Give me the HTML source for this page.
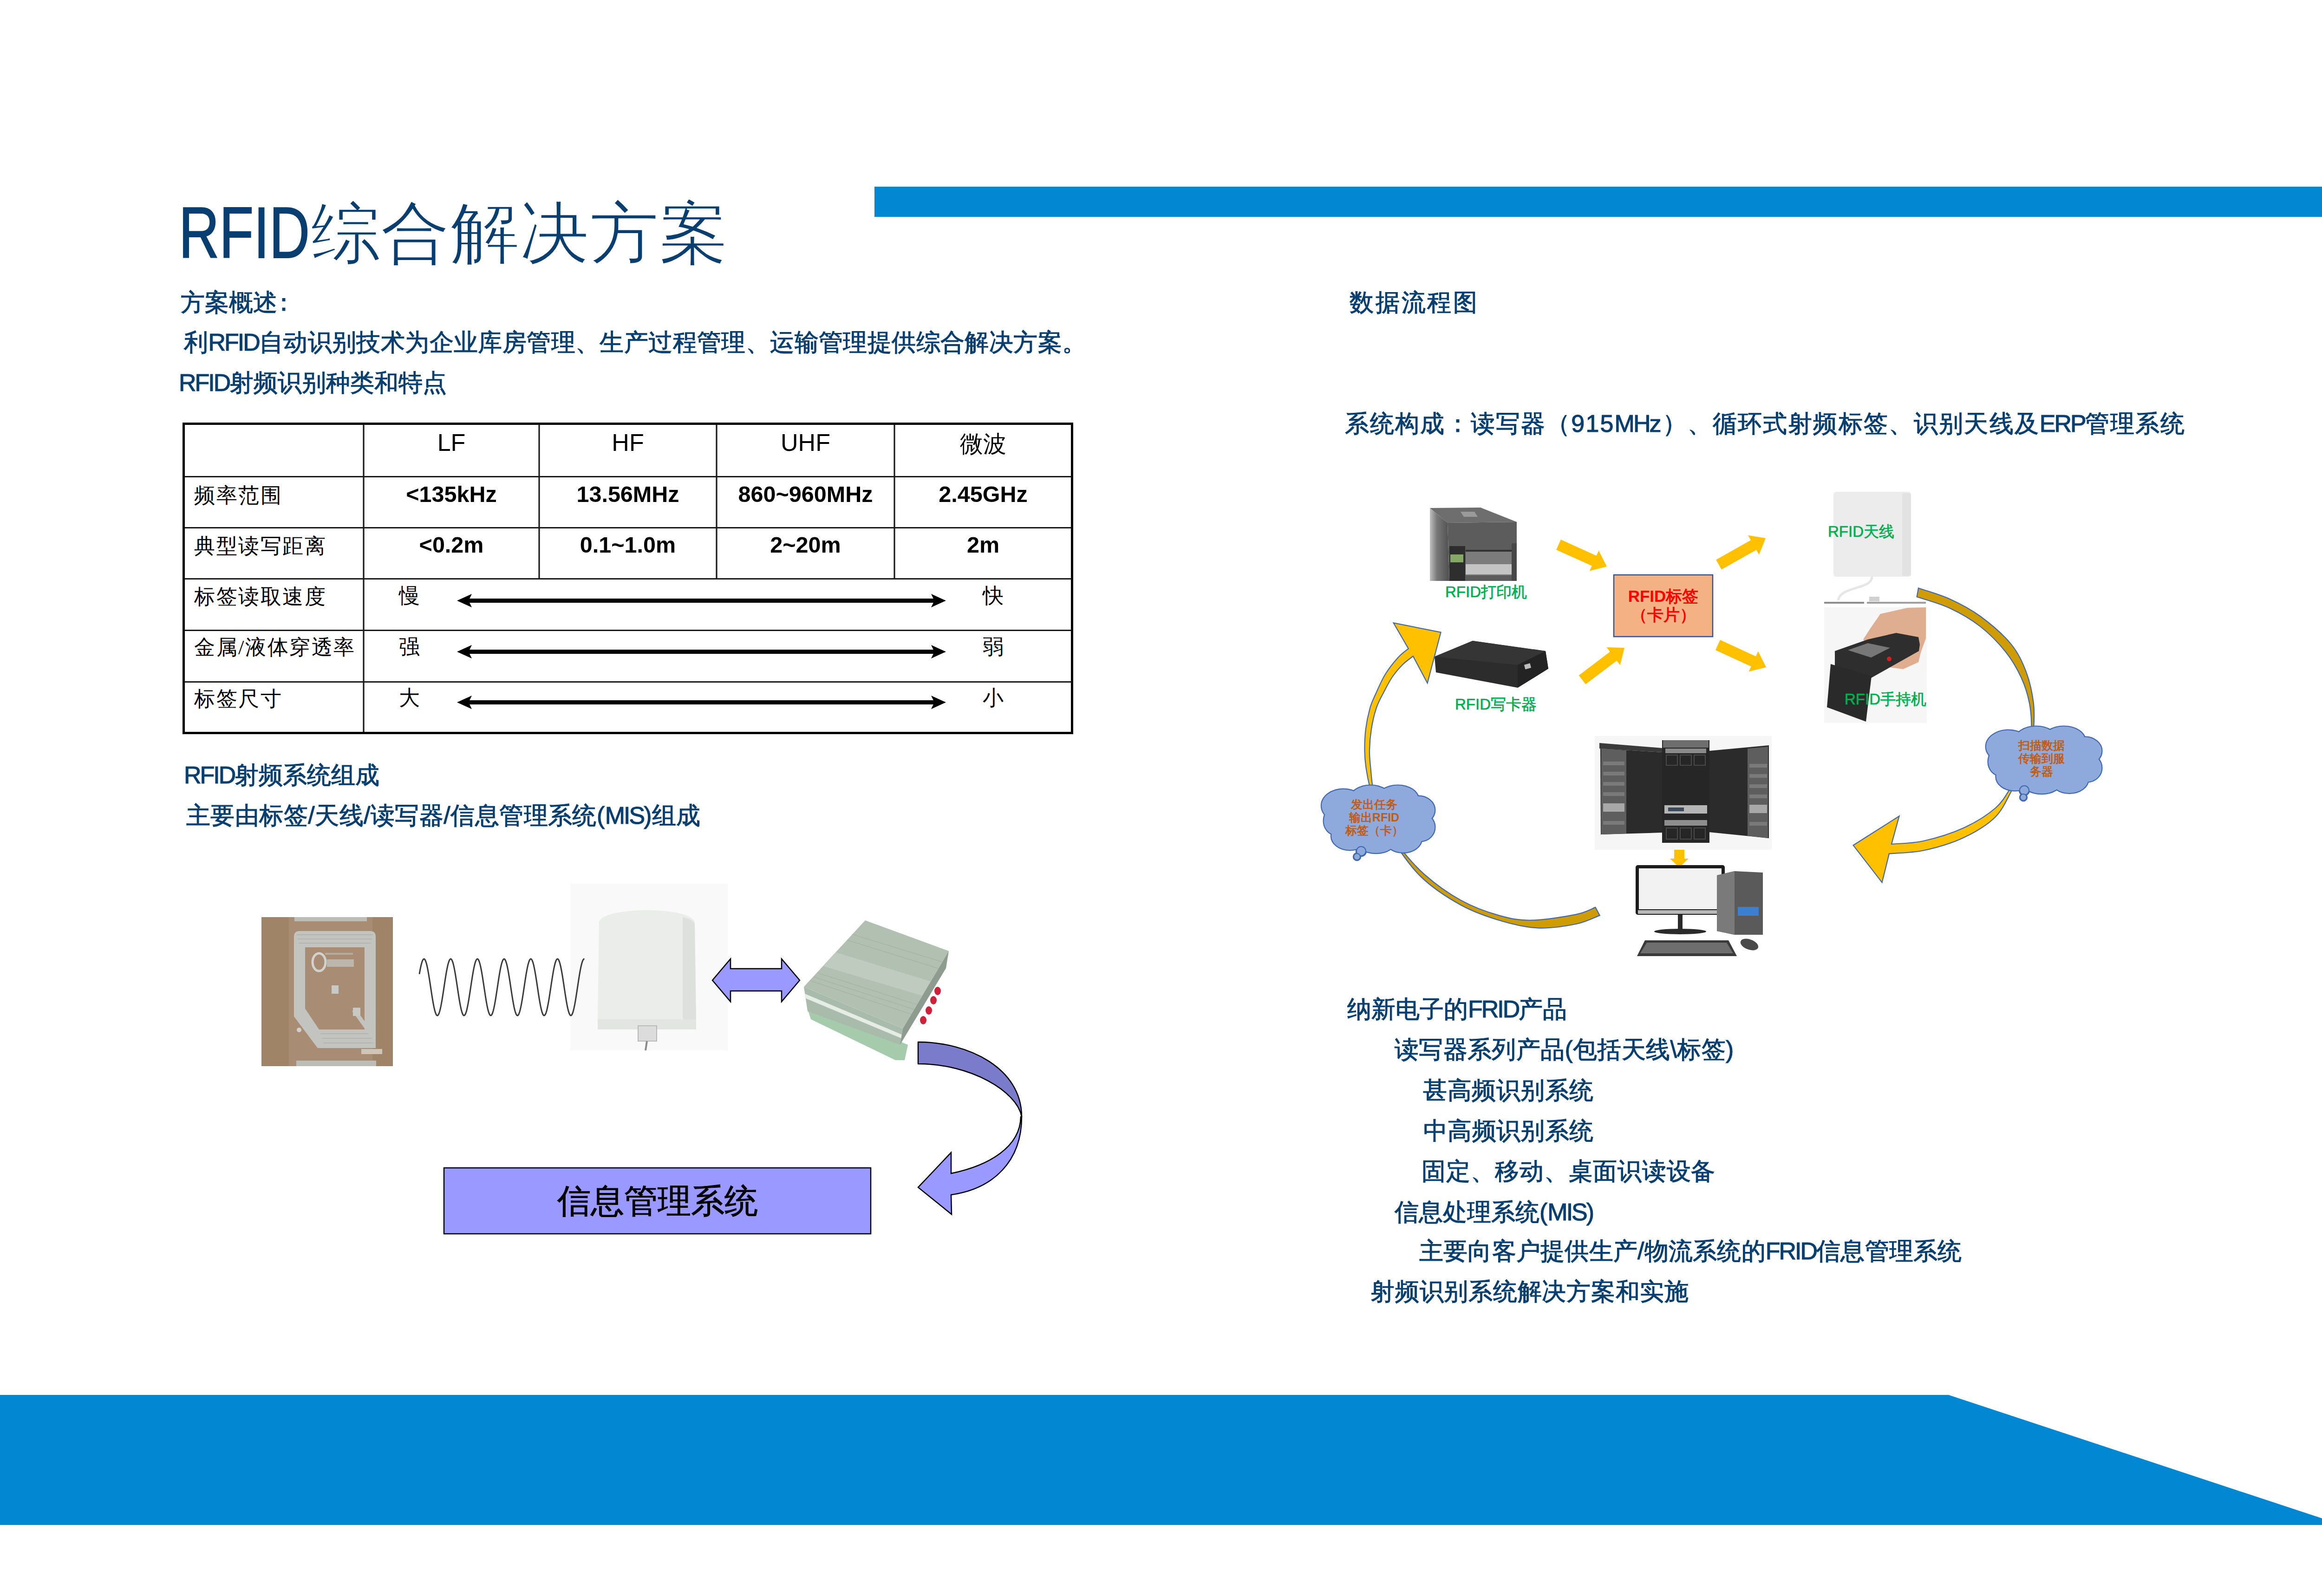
<!DOCTYPE html>
<html><head><meta charset="utf-8">
<style>
html,body{margin:0;padding:0;background:#fff;}
body{width:5031px;height:3437px;position:relative;overflow:hidden;font-family:"Liberation Sans",sans-serif;}
.t{position:absolute;white-space:nowrap;line-height:1;}
.b{color:#083F70;font-size:52px;-webkit-text-stroke:1.1px #083F70;}
.tc{color:#000;text-align:center;}
.ts{font-family:"Liberation Serif",serif;}
.tl{font-size:45px;letter-spacing:2.5px;color:#000;}
.tv{font-size:48.5px;font-weight:bold;}
.g{color:#00B050;font-size:33px;-webkit-text-stroke:0.7px #00B050;}
.cl{color:#C55A11;font-size:25px;font-weight:bold;text-align:center;line-height:28px;}
.lt{letter-spacing:-3px;}
.sv{position:absolute;left:0;top:0;}
</style></head><body>
<svg class="sv" width="5031" height="3437" viewBox="0 0 5031 3437">
<rect x="1883" y="402" width="3145" height="65" fill="#0287D3"/>
<polygon points="0,3004 4196,3004 5031,3280 5031,3284 0,3284" fill="#0287D3"/>
<g id="tagphoto">
    <rect x="563" y="1975" width="283" height="321" fill="#A08468"/>
    <rect x="622" y="1975" width="180" height="321" fill="#A88D74"/>
    <path fill="#C3C3BF" fill-rule="evenodd" d="M645,2005 L797,2005 Q809,2005 809,2017 L809,2257 L684,2257 L633,2189 L633,2017 Q633,2005 645,2005 Z M657,2040 L785,2040 L785,2217 L687,2217 L657,2172 Z"/>
    <g stroke="#B0B0AC" stroke-width="1.5" fill="none">
      <path d="M639,2013 L803,2013 M641,2022 L801,2022 M643,2031 L799,2031"/>
      <path d="M690,2226 L800,2226 M693,2236 L802,2236 M696,2246 L804,2246"/>
    </g>
    <rect x="634" y="1975" width="156" height="9" fill="#BDBDB8"/>
    <rect x="638" y="2284" width="172" height="12" fill="#BDBDB8"/>
    <rect x="714" y="2122" width="15" height="18" fill="#C8C8C4"/>
    <path d="M762,2175 L806,2236" stroke="#C3C3BF" stroke-width="9"/>
    <rect x="760" y="2170" width="16" height="18" fill="#C8C8C4"/>
    <ellipse cx="687" cy="2072" rx="14" ry="19" fill="none" stroke="#D2D2CE" stroke-width="5"/>
    <rect x="704" y="2066" width="58" height="16" fill="#BDB6AC"/>
    <rect x="700" y="2052" width="60" height="4" fill="#B5AC9E"/>
    <circle cx="644" cy="2218" r="5" fill="#D0D0CC"/>
    <rect x="778" y="2259" width="45" height="11" fill="#CFC6BA"/>
  </g>
<g id="antphoto">
    <rect x="1228" y="1903" width="339" height="359" fill="#F9F9F9"/>
    <path d="M1290,1985 Q1300,1962 1393,1960 Q1486,1962 1496,1985 L1499,2200 Q1499,2217 1482,2217 L1304,2217 Q1287,2217 1287,2200 Z" fill="#EAEDEA"/>
    <path d="M1470,1975 Q1493,1980 1496,1990 L1499,2200 Q1499,2217 1482,2217 L1470,2217 Z" fill="#DDE0DD"/>
    <rect x="1287" y="2195" width="212" height="22" fill="#E2E5E2"/>
    <rect x="1374" y="2209" width="40" height="33" fill="#DCDCDC" stroke="#B8B8B8" stroke-width="2"/>
    <line x1="1393" y1="2242" x2="1390" y2="2262" stroke="#8A8A8A" stroke-width="4"/>
  </g>
<polyline points="903.0,2097.8 904.5,2089.3 906.0,2081.9 907.5,2075.6 909.0,2070.7 910.5,2067.2 912.0,2065.3 913.5,2065.1 915.0,2066.5 916.5,2069.5 918.0,2074.0 919.5,2079.9 921.0,2087.0 922.5,2095.2 924.0,2104.2 925.5,2113.8 927.0,2123.7 928.5,2133.6 930.0,2143.4 931.5,2152.7 933.0,2161.3 934.5,2169.0 936.0,2175.4 937.5,2180.6 939.0,2184.3 940.5,2186.5 942.0,2187.0 943.5,2185.9 945.0,2183.1 946.5,2178.9 948.0,2173.2 949.5,2166.3 951.0,2158.3 952.5,2149.4 954.0,2139.9 955.5,2130.0 957.0,2120.0 958.5,2110.2 960.0,2100.8 961.5,2092.1 963.0,2084.2 964.5,2077.5 966.0,2072.1 967.5,2068.2 969.0,2065.8 970.5,2065.0 972.0,2065.8 973.5,2068.3 975.0,2072.3 976.5,2077.7 978.0,2084.5 979.5,2092.3 981.0,2101.1 982.5,2110.5 984.0,2120.3 985.5,2130.3 987.0,2140.2 988.5,2149.7 990.0,2158.5 991.5,2166.5 993.0,2173.4 994.5,2179.0 996.0,2183.3 997.5,2185.9 999.0,2187.0 1000.5,2186.4 1002.0,2184.2 1003.5,2180.5 1005.0,2175.3 1006.5,2168.7 1008.0,2161.0 1009.5,2152.4 1011.0,2143.1 1012.5,2133.3 1014.0,2123.3 1015.5,2113.4 1017.0,2103.9 1018.5,2094.9 1020.0,2086.7 1021.5,2079.6 1023.0,2073.8 1024.5,2069.3 1026.0,2066.4 1027.5,2065.1 1029.0,2065.4 1030.5,2067.3 1032.0,2070.8 1033.5,2075.8 1035.0,2082.1 1036.5,2089.6 1038.0,2098.1 1039.5,2107.3 1041.0,2117.0 1042.5,2127.0 1044.0,2136.9 1045.5,2146.6 1047.0,2155.7 1048.5,2164.0 1050.0,2171.3 1051.5,2177.3 1053.0,2182.0 1054.5,2185.2 1056.0,2186.8 1057.5,2186.8 1059.0,2185.1 1060.5,2181.9 1062.0,2177.1 1063.5,2171.0 1065.0,2163.7 1066.5,2155.4 1068.0,2146.3 1069.5,2136.6 1071.0,2126.7 1072.5,2116.7 1074.0,2107.0 1075.5,2097.8 1077.0,2089.3 1078.5,2081.9 1080.0,2075.6 1081.5,2070.7 1083.0,2067.2 1084.5,2065.3 1086.0,2065.1 1087.5,2066.5 1089.0,2069.5 1090.5,2074.0 1092.0,2079.9 1093.5,2087.0 1095.0,2095.2 1096.5,2104.2 1098.0,2113.8 1099.5,2123.7 1101.0,2133.6 1102.5,2143.4 1104.0,2152.7 1105.5,2161.3 1107.0,2169.0 1108.5,2175.4 1110.0,2180.6 1111.5,2184.3 1113.0,2186.5 1114.5,2187.0 1116.0,2185.9 1117.5,2183.1 1119.0,2178.9 1120.5,2173.2 1122.0,2166.3 1123.5,2158.3 1125.0,2149.4 1126.5,2139.9 1128.0,2130.0 1129.5,2120.0 1131.0,2110.2 1132.5,2100.8 1134.0,2092.1 1135.5,2084.2 1137.0,2077.5 1138.5,2072.1 1140.0,2068.2 1141.5,2065.8 1143.0,2065.0 1144.5,2065.8 1146.0,2068.3 1147.5,2072.3 1149.0,2077.7 1150.5,2084.5 1152.0,2092.3 1153.5,2101.1 1155.0,2110.5 1156.5,2120.3 1158.0,2130.3 1159.5,2140.2 1161.0,2149.7 1162.5,2158.5 1164.0,2166.5 1165.5,2173.4 1167.0,2179.0 1168.5,2183.3 1170.0,2185.9 1171.5,2187.0 1173.0,2186.4 1174.5,2184.2 1176.0,2180.5 1177.5,2175.3 1179.0,2168.7 1180.5,2161.0 1182.0,2152.4 1183.5,2143.1 1185.0,2133.3 1186.5,2123.3 1188.0,2113.4 1189.5,2103.9 1191.0,2094.9 1192.5,2086.7 1194.0,2079.6 1195.5,2073.8 1197.0,2069.3 1198.5,2066.4 1200.0,2065.1 1201.5,2065.4 1203.0,2067.3 1204.5,2070.8 1206.0,2075.8 1207.5,2082.1 1209.0,2089.6 1210.5,2098.1 1212.0,2107.3 1213.5,2117.0 1215.0,2127.0 1216.5,2136.9 1218.0,2146.6 1219.5,2155.7 1221.0,2164.0 1222.5,2171.3 1224.0,2177.3 1225.5,2182.0 1227.0,2185.2 1228.5,2186.8 1230.0,2186.8 1231.5,2185.1 1233.0,2181.9 1234.5,2177.1 1236.0,2171.0 1237.5,2163.7 1239.0,2155.4 1240.5,2146.3 1242.0,2136.6 1243.5,2126.7 1245.0,2116.7 1246.5,2107.0 1248.0,2097.8 1249.5,2089.3 1251.0,2081.9 1252.5,2075.6 1254.0,2070.7 1255.5,2067.2 1257.0,2065.3 1258.5,2065.1" fill="none" stroke="#3a3a3a" stroke-width="3"/>
<polygon points="1534,2111 1573,2065 1573,2086 1683,2086 1683,2065 1722,2111 1683,2157 1683,2134 1573,2134 1573,2157" fill="#9999FF" stroke="#000" stroke-width="2.5"/>
<g id="reader">
    <polygon points="1738,2170 1746,2195 1928,2283 1948,2283 1955,2250 1745,2160" fill="#A6CBAC"/>
    <polygon points="1731,2125 1944,2215 1938,2250 1739,2178" fill="#A9BBAA"/>
    <polygon points="1733,2140 1942,2228 1941,2236 1735,2150" fill="#E4ECE4"/>
    <polygon points="1863,1982 2043,2048 1944,2215 1731,2125" fill="#B2C0B2"/>
    <clipPath id="rtop"><polygon points="1863,1982 2043,2048 1944,2215 1731,2125"/></clipPath>
    <polygon clip-path="url(#rtop)" points="1790,2048 2025,2120 2005,2150 1765,2078" fill="#C0CBC0"/><g stroke="#A3B1A3" stroke-width="1.2" clip-path="url(#rtop)"><line x1="1760" y1="2095" x2="1995" y2="2170"/><line x1="1752" y1="2104" x2="1988" y2="2180"/><line x1="1745" y1="2112" x2="1980" y2="2190"/><line x1="1810" y1="2020" x2="2035" y2="2090"/><line x1="1822" y1="2008" x2="2040" y2="2075"/></g>
    <polygon points="2043,2048 2037,2085 1938,2250 1944,2215" fill="#8E9C8F"/>
    <g fill="#D0203A"><ellipse cx="2019" cy="2134" rx="7" ry="9"/><ellipse cx="2010" cy="2154" rx="7" ry="9"/><ellipse cx="2000" cy="2176" rx="7" ry="9"/><ellipse cx="1988" cy="2197" rx="7" ry="9"/></g>
  </g>
<rect x="956" y="2515" width="919" height="142" fill="#9999FF" stroke="#000" stroke-width="2.5"/>
<path d="M1977,2244 C2085,2244 2200,2300 2200,2405 C2190,2350 2090,2291 1977,2291 Z" fill="#7B7BCC" stroke="#000" stroke-width="2.5" stroke-linejoin="round"/>
<path d="M2200,2405 C2200,2500 2140,2560 2048,2573 L2049,2615 L1977,2557 L2048,2482 L2048,2527 C2130,2510 2197,2470 2198,2405 Z" fill="#9999FF" stroke="#000" stroke-width="2.5"/>
<g fill="none" stroke="#000">
    <rect x="395.5" y="912.5" width="1913" height="666" stroke-width="5"/>
    <g stroke-width="3.2" stroke="#1a1a1a">
      <line x1="398" y1="1026.5" x2="2306" y2="1026.5"/>
      <line x1="398" y1="1136.5" x2="2306" y2="1136.5"/>
      <line x1="398" y1="1246.5" x2="2306" y2="1246.5"/>
      <line x1="398" y1="1357.5" x2="2306" y2="1357.5"/>
      <line x1="398" y1="1468.5" x2="2306" y2="1468.5"/>
      <line x1="783" y1="915" x2="783" y2="1576"/>
      <line x1="1161" y1="915" x2="1161" y2="1246.5"/>
      <line x1="1543" y1="915" x2="1543" y2="1246.5"/>
      <line x1="1926" y1="915" x2="1926" y2="1246.5"/>
    </g>
  </g>
<g transform="translate(0,0)"><rect x="1000" y="1289" width="1020" height="9" fill="#000"/>
      <path d="M984,1293.5 L1016,1279 L1009,1293.5 L1016,1308 Z" fill="#000"/>
      <path d="M2037,1293.5 L2005,1279 L2012,1293.5 L2005,1308 Z" fill="#000"/></g>
<g transform="translate(0,110)"><rect x="1000" y="1289" width="1020" height="9" fill="#000"/>
      <path d="M984,1293.5 L1016,1279 L1009,1293.5 L1016,1308 Z" fill="#000"/>
      <path d="M2037,1293.5 L2005,1279 L2012,1293.5 L2005,1308 Z" fill="#000"/></g>
<g transform="translate(0,219)"><rect x="1000" y="1289" width="1020" height="9" fill="#000"/>
      <path d="M984,1293.5 L1016,1279 L1009,1293.5 L1016,1308 Z" fill="#000"/>
      <path d="M2037,1293.5 L2005,1279 L2012,1293.5 L2005,1308 Z" fill="#000"/></g>
<g id="printer">
  <defs><linearGradient id="pgl" x1="0" x2="1" y1="0" y2="0"><stop offset="0" stop-color="#C0C0C0"/><stop offset="0.35" stop-color="#7A7A7A"/><stop offset="1" stop-color="#4E4E4E"/></linearGradient></defs>
  <polygon points="3079,1094 3188,1093 3266,1124 3117,1126" fill="#6E6E6E"/>
  <polygon points="3079,1094 3117,1126 3121,1251 3079,1251" fill="url(#pgl)"/>
  <polygon points="3117,1126 3266,1124 3266,1251 3121,1251" fill="#5C5C5C"/>
  <polygon points="3145,1102 3175,1102 3182,1113 3152,1113" fill="#9A9A9A"/>
  <rect x="3121" y="1176" width="34" height="75" fill="#2E2E2E"/>
  <rect x="3123" y="1194" width="28" height="17" fill="#86A866"/>
  <rect x="3156" y="1184" width="99" height="55" fill="#7C7C7C"/>
  <rect x="3156" y="1184" width="99" height="4" fill="#333"/>
  <rect x="3156" y="1215" width="99" height="22" fill="#C4C4C4"/>
  <rect x="3255" y="1170" width="11" height="81" fill="#474747"/>
</g>
<g id="writer">
  <polygon points="3089,1414 3171,1380 3328,1402 3334,1440 3268,1481 3092,1448" fill="#2C2C2C"/>
  <polygon points="3089,1414 3171,1380 3328,1402 3268,1432" fill="#353535"/>
  <polygon points="3268,1432 3328,1402 3334,1440 3268,1481" fill="#232323"/>
  <rect x="3283" y="1430" width="13" height="10" fill="#BDBDBD" transform="rotate(-15 3289 1435)"/>
</g>
<rect x="3475" y="1238" width="213" height="133" fill="#F4B183" stroke="#2F5597" stroke-width="2.5"/>
<polygon points="3351.1,1183.9 3427.7,1218.6 3422.8,1229.5 3460.0,1220.0 3442.5,1185.8 3437.6,1196.7 3360.9,1162.1" fill="#FFC000"/>
<polygon points="3414.3,1473.6 3481.3,1422.7 3488.6,1432.2 3498.0,1395.0 3459.6,1394.0 3466.8,1403.6 3399.7,1454.4" fill="#FFC000"/>
<polygon points="3706.9,1226.5 3781.8,1184.2 3787.7,1194.6 3802.0,1159.0 3764.1,1152.8 3770.0,1163.3 3695.1,1205.5" fill="#FFC000"/>
<polygon points="3694.0,1399.9 3770.7,1435.3 3765.7,1446.2 3803.0,1437.0 3785.8,1402.6 3780.8,1413.5 3704.0,1378.1" fill="#FFC000"/>
<g id="antpanel">
  <rect x="3948" y="1059" width="167" height="183" rx="6" fill="#ECECEC"/>
  <rect x="4096" y="1062" width="19" height="178" rx="4" fill="#E2E2E2"/>
  <path d="M4031,1242 C4031,1270 3962,1262 3958,1293" fill="none" stroke="#E6E6E6" stroke-width="5"/>
  <rect x="3928" y="1296" width="86" height="4" fill="#8E8E8E"/>
  <rect x="4020" y="1296" width="127" height="4" fill="#A0A0A0"/>
  <rect x="4025" y="1285" width="22" height="10" fill="#D0D0D0"/>
</g>
<g id="handheld">
  <rect x="3928" y="1307" width="221" height="250" fill="#F6F6F6"/>
  <polygon points="4012,1377 4029,1351 4049,1322 4076,1316 4107,1309 4147,1308 4147,1375 4136,1405 4131,1426 4098,1441 4060,1436" fill="#DFAE90"/>
  <polygon points="3951,1402 4022,1377 4083,1363 4131,1372 4134,1388 4132,1402 4029,1460 3951,1436" fill="#2E2E2E"/>
  <polygon points="3979,1400 4022,1385 4070,1395 4029,1416" fill="#777777"/>
  <polygon points="3942,1430 4030,1456 4018,1554 3934,1523" fill="#2A2A2A"/>
  <circle cx="4068" cy="1419" r="5" fill="#D02020"/>
</g>
<g id="servers">
  <rect x="3434" y="1585" width="381" height="245" fill="#F6F6F6"/>
  <polygon points="3444,1600 3580,1611 3580,1620 3444,1612" fill="#3A3A3A"/>
  <polygon points="3446,1612 3580,1620 3579,1793 3447,1797" fill="#2B2B2B"/>
  <polygon points="3448,1612 3502,1616 3502,1795 3448,1797" fill="#5E5E5E"/>
  <g fill="#7A7A7A"><rect x="3452" y="1640" width="46" height="8"/><rect x="3452" y="1662" width="46" height="8"/><rect x="3452" y="1684" width="46" height="8"/><rect x="3452" y="1706" width="46" height="8"/><rect x="3452" y="1768" width="46" height="8"/></g>
  <rect x="3452" y="1730" width="46" height="18" fill="#A8A8A8"/>
  <polygon points="3680,1617 3809,1605 3809,1805 3680,1792" fill="#2B2B2B"/>
  <polygon points="3763,1612 3807,1608 3807,1805 3763,1800" fill="#5E5E5E"/>
  <g fill="#7A7A7A"><rect x="3767" y="1645" width="38" height="8"/><rect x="3767" y="1667" width="38" height="8"/><rect x="3767" y="1689" width="38" height="8"/><rect x="3767" y="1711" width="38" height="8"/><rect x="3767" y="1770" width="38" height="8"/></g>
  <rect x="3767" y="1733" width="38" height="18" fill="#A8A8A8"/>
  <rect x="3579" y="1594" width="102" height="221" fill="#262626"/>
  <rect x="3581" y="1594" width="98" height="16" fill="#6E6E6E"/>
  <rect x="3586" y="1612" width="88" height="10" fill="#8A8A8A"/>
  <g fill="none" stroke="#4A4A4A" stroke-width="2"><rect x="3588" y="1626" width="24" height="22"/><rect x="3618" y="1626" width="24" height="22"/><rect x="3648" y="1626" width="24" height="22"/><rect x="3588" y="1783" width="24" height="24"/><rect x="3618" y="1783" width="24" height="24"/><rect x="3648" y="1783" width="24" height="24"/></g>
  <rect x="3584" y="1734" width="92" height="18" fill="#B5B5B5"/>
  <rect x="3592" y="1739" width="34" height="8" fill="#3A4A5A"/>
  <rect x="3584" y="1766" width="92" height="12" fill="#8E8E8E"/>
</g>
<polygon points="3605.0,1830.0 3605.0,1849.0 3596.0,1849.0 3616.0,1868.0 3636.0,1849.0 3627.0,1849.0 3627.0,1830.0" fill="#FFC000"/>
<g id="computer">
  <rect x="3522" y="1863" width="192" height="107" rx="5" fill="#1C1C1C"/>
  <rect x="3529" y="1870" width="178" height="88" fill="#F2F2F2"/>
  <rect x="3527" y="1960" width="182" height="8" fill="#B8B8B8"/>
  <rect x="3613" y="1970" width="10" height="32" fill="#2A2A2A"/>
  <ellipse cx="3618" cy="2006" rx="56" ry="6" fill="#2A2A2A"/>
  <polygon points="3697,1885 3735,1876 3796,1879 3796,2013 3735,2013 3697,2005" fill="#5A5A5A"/>
  <polygon points="3697,1885 3735,1876 3735,2013 3697,2005" fill="#7A7A7A"/>
  <rect x="3742" y="1953" width="45" height="19" fill="#3D7FCC"/>
  <polygon points="3525,2059 3542,2025 3722,2025 3740,2059" fill="#3A3A3A"/>
  <polygon points="3532,2053 3546,2030 3718,2030 3732,2053" fill="#6E6E6E"/>
  <ellipse cx="3767" cy="2034" rx="20" ry="11" fill="#4A4A4A" transform="rotate(20 3767 2034)"/>
</g>
<path d="M3000.6,1341.4 L3102.6,1361.6 L3073.6,1471 L3042.8,1413.2 C3039.1,1416.1 3028.3,1423.3 3020.8,1430.8 C3013.3,1438.3 3004.8,1448.1 2998.0,1458.0 C2991.2,1467.9 2985.8,1478.8 2980.0,1490.0 C2974.2,1501.2 2968.0,1511.9 2963.5,1525.3 C2959.0,1538.7 2955.3,1555.5 2952.9,1570.6 C2950.5,1585.7 2949.2,1602.2 2949.0,1616.0 C2948.8,1629.8 2950.1,1639.9 2951.4,1653.7 C2952.7,1667.5 2953.6,1683.8 2956.7,1699.0 C2959.8,1714.2 2967.8,1737.3 2970.0,1745.0 L2965.0,1745.0 C2962.6,1737.3 2954.5,1714.2 2950.6,1699.0 C2946.7,1683.8 2943.5,1667.5 2941.5,1653.7 C2939.5,1639.9 2938.6,1629.8 2938.5,1616.0 C2938.4,1602.2 2938.9,1585.7 2940.8,1570.6 C2942.7,1555.5 2946.4,1537.9 2949.9,1525.3 C2953.4,1512.7 2956.5,1507.2 2962.0,1495.0 C2967.5,1482.8 2974.9,1465.2 2983.0,1452.0 C2991.1,1438.8 3002.4,1424.9 3010.7,1415.7 C3019.0,1406.5 3029.0,1400.0 3032.7,1396.8 Z" fill="#FFC000" stroke="#3F68B0" stroke-width="2.2" stroke-linejoin="miter"/>
<path d="M2965.0,1745.0 C2967.5,1750.0 2973.4,1762.7 2980.0,1775.0 C2986.6,1787.3 2991.0,1799.3 3004.8,1818.6 C3018.6,1837.9 3039.2,1869.2 3062.6,1890.9 C3086.0,1912.6 3117.7,1933.6 3145.2,1948.7 C3172.7,1963.8 3200.3,1973.4 3227.8,1981.7 C3255.3,1990.0 3282.9,1996.9 3310.4,1998.3 C3337.9,1999.7 3370.6,1994.5 3393.0,1990.0 C3415.4,1985.5 3436.1,1974.5 3444.7,1971.4 L3435.4,1953.9 C3428.3,1956.5 3415.9,1964.7 3393.0,1969.3 C3370.1,1973.9 3325.5,1981.3 3298.0,1981.7 C3270.5,1982.1 3253.3,1978.6 3227.8,1971.4 C3202.3,1964.2 3172.0,1953.2 3145.2,1938.4 C3118.3,1923.6 3089.4,1902.7 3066.7,1882.6 C3044.0,1862.5 3022.4,1835.5 3009.0,1817.6 C2995.6,1799.7 2992.5,1787.1 2986.0,1775.0 C2979.5,1762.9 2972.7,1750.0 2970.0,1745.0 Z" fill="#D09C03" stroke="#3F68B0" stroke-width="2.2" stroke-linejoin="miter"/>
<path d="M4131.0,1266.5 C4142.2,1270.4 4175.8,1279.6 4198.0,1289.7 C4220.2,1299.8 4242.0,1310.8 4264.0,1327.0 C4286.0,1343.2 4313.4,1366.4 4330.0,1386.6 C4346.6,1406.8 4355.3,1427.0 4363.4,1448.3 C4371.5,1469.6 4376.2,1493.5 4378.8,1514.4 C4381.4,1535.4 4379.9,1556.4 4378.8,1574.0 C4377.7,1591.6 4373.1,1612.3 4372.0,1620.0 L4368.0,1620.0 C4369.1,1612.3 4374.1,1591.6 4374.4,1574.0 C4374.7,1556.4 4373.7,1533.5 4370.0,1514.4 C4366.3,1495.3 4360.9,1477.7 4352.4,1459.3 C4343.9,1440.9 4333.7,1422.4 4319.0,1404.0 C4304.3,1385.6 4284.2,1364.8 4264.0,1349.0 C4243.8,1333.2 4220.7,1320.1 4198.0,1309.5 C4175.3,1298.9 4139.3,1289.3 4127.6,1285.3 Z" fill="#D09C03" stroke="#3F68B0" stroke-width="2.2" stroke-linejoin="miter"/>
<path d="M3990.7,1820.3 L4089.6,1757.5 L4073.0,1817.7 C4084.5,1816.6 4116.2,1816.8 4142.0,1811.0 C4167.8,1805.2 4202.2,1794.8 4228.0,1783.0 C4253.8,1771.2 4279.8,1754.9 4297.0,1740.0 C4314.2,1725.1 4322.6,1706.3 4331.4,1693.8 C4340.2,1681.3 4343.9,1677.3 4350.0,1665.0 C4356.1,1652.7 4365.0,1627.5 4368.0,1620.0 L4372.0,1620.0 C4369.2,1628.0 4361.2,1655.2 4355.0,1668.0 C4348.8,1680.8 4344.7,1681.8 4335.0,1697.0 C4325.3,1712.2 4314.8,1741.2 4297.0,1759.0 C4279.2,1776.8 4253.8,1791.9 4228.0,1804.0 C4202.2,1816.1 4168.7,1825.8 4142.0,1831.5 C4115.3,1837.2 4080.3,1837.2 4068.0,1838.3 L4052.6,1900.3 Z" fill="#FFC000" stroke="#3F68B0" stroke-width="2.2" stroke-linejoin="miter"/>
<g stroke="#3F68B0" stroke-width="4.4" fill="#3F68B0"><ellipse cx="2892.8" cy="1735.1" rx="46.8" ry="35.4"/><ellipse cx="2951.3" cy="1721.5" rx="44.5" ry="29.9"/><ellipse cx="3009.8" cy="1721.5" rx="44.5" ry="29.9"/><ellipse cx="3054.2" cy="1744.6" rx="35.1" ry="29.9"/><ellipse cx="3058.9" cy="1781.3" rx="30.4" ry="29.9"/><ellipse cx="3021.5" cy="1805.8" rx="39.8" ry="29.9"/><ellipse cx="2963.0" cy="1809.9" rx="42.1" ry="27.2"/><ellipse cx="2906.8" cy="1800.4" rx="39.8" ry="29.9"/><ellipse cx="2876.4" cy="1767.7" rx="25.7" ry="29.9"/><circle cx="2931" cy="1833" r="10"/><circle cx="2922" cy="1845" r="7"/></g><g fill="#8EA9DB"><ellipse cx="2892.8" cy="1735.1" rx="46.8" ry="35.4"/><ellipse cx="2951.3" cy="1721.5" rx="44.5" ry="29.9"/><ellipse cx="3009.8" cy="1721.5" rx="44.5" ry="29.9"/><ellipse cx="3054.2" cy="1744.6" rx="35.1" ry="29.9"/><ellipse cx="3058.9" cy="1781.3" rx="30.4" ry="29.9"/><ellipse cx="3021.5" cy="1805.8" rx="39.8" ry="29.9"/><ellipse cx="2963.0" cy="1809.9" rx="42.1" ry="27.2"/><ellipse cx="2906.8" cy="1800.4" rx="39.8" ry="29.9"/><ellipse cx="2876.4" cy="1767.7" rx="25.7" ry="29.9"/><ellipse cx="2970.0" cy="1765.0" rx="93.6" ry="49.0"/></g><g fill="#8EA9DB" stroke="#3F68B0" stroke-width="2"><circle cx="2931" cy="1833" r="10"/><circle cx="2922" cy="1845" r="7"/></g>
<g stroke="#3F68B0" stroke-width="4.4" fill="#3F68B0"><ellipse cx="4324.6" cy="1607.8" rx="47.8" ry="35.1"/><ellipse cx="4384.4" cy="1594.3" rx="45.4" ry="29.7"/><ellipse cx="4444.1" cy="1594.3" rx="45.4" ry="29.7"/><ellipse cx="4489.5" cy="1617.2" rx="35.9" ry="29.7"/><ellipse cx="4494.3" cy="1653.7" rx="31.1" ry="29.7"/><ellipse cx="4456.1" cy="1678.0" rx="40.6" ry="29.7"/><ellipse cx="4396.3" cy="1682.0" rx="43.0" ry="27.0"/><ellipse cx="4339.0" cy="1672.6" rx="40.6" ry="29.7"/><ellipse cx="4307.9" cy="1640.2" rx="26.3" ry="29.7"/><circle cx="4359" cy="1702" r="10"/><circle cx="4357" cy="1717" r="7"/></g><g fill="#8EA9DB"><ellipse cx="4324.6" cy="1607.8" rx="47.8" ry="35.1"/><ellipse cx="4384.4" cy="1594.3" rx="45.4" ry="29.7"/><ellipse cx="4444.1" cy="1594.3" rx="45.4" ry="29.7"/><ellipse cx="4489.5" cy="1617.2" rx="35.9" ry="29.7"/><ellipse cx="4494.3" cy="1653.7" rx="31.1" ry="29.7"/><ellipse cx="4456.1" cy="1678.0" rx="40.6" ry="29.7"/><ellipse cx="4396.3" cy="1682.0" rx="43.0" ry="27.0"/><ellipse cx="4339.0" cy="1672.6" rx="40.6" ry="29.7"/><ellipse cx="4307.9" cy="1640.2" rx="26.3" ry="29.7"/><ellipse cx="4403.5" cy="1637.5" rx="95.6" ry="48.6"/></g><g fill="#8EA9DB" stroke="#3F68B0" stroke-width="2"><circle cx="4359" cy="1702" r="10"/><circle cx="4357" cy="1717" r="7"/></g>
</svg>

<div class="t" id="title-l" style="left:385px;top:424px;font-size:155px;color:#083F70;-webkit-text-stroke:2px #083F70;transform:scaleX(.78);transform-origin:0 0;">RFID</div>
<div class="t" id="title-c" style="left:669px;top:430px;font-size:150px;color:#083F70;font-family:'Liberation Serif',serif;-webkit-text-stroke:2.5px #fff;transform:scaleY(.967);transform-origin:0 0;">综合解决方案</div>

<div class="t b" id="l1" style="left:389px;top:625px;">方案概述<span style="margin-left:-12px">：</span></div>
<div class="t b" id="l2" style="left:396px;top:711px;letter-spacing:0.4px;">利<span class="lt">RFID</span>自动识别技术为企业库房管理、生产过程管理、运输管理提供综合解决方案。</div>
<div class="t b" id="l3" style="left:385px;top:798px;"><span class="lt">RFID</span>射频识别种类和特点</div>

<div id="h1" class="t tc" style="left:783px;width:378px;top:927px;font-size:52px;">LF</div>
<div id="h2" class="t tc" style="left:1161px;width:382px;top:927px;font-size:52px;">HF</div>
<div id="h3" class="t tc" style="left:1543px;width:383px;top:927px;font-size:52px;">UHF</div>
<div id="h4" class="t tc ts" style="left:1926px;width:382px;top:931px;font-size:50px;">微波</div>
<div id="v1" class="t tc tv" style="left:783px;width:378px;top:1040px;">&lt;135kHz</div>
<div id="v2" class="t tc tv" style="left:1161px;width:382px;top:1040px;">13.56MHz</div>
<div id="v3" class="t tc tv" style="left:1543px;width:383px;top:1040px;">860~960MHz</div>
<div id="v4" class="t tc tv" style="left:1926px;width:382px;top:1040px;">2.45GHz</div>
<div id="w1" class="t tc tv" style="left:783px;width:378px;top:1149px;">&lt;0.2m</div>
<div id="w2" class="t tc tv" style="left:1161px;width:382px;top:1149px;">0.1~1.0m</div>
<div id="w3" class="t tc tv" style="left:1543px;width:383px;top:1149px;">2~20m</div>
<div id="w4" class="t tc tv" style="left:1926px;width:382px;top:1149px;">2m</div>
<div class="t ts tl" id="tl1" style="left:418px;top:1045px;">频率范围</div>
<div class="t ts tl" id="tl2" style="left:418px;top:1154px;">典型读写距离</div>
<div class="t ts tl" id="tl3" style="left:418px;top:1263px;">标签读取速度</div>
<div class="t ts tl" id="tl4" style="left:418px;top:1372px;">金属/液体穿透率</div>
<div class="t ts tl" id="tl5" style="left:418px;top:1483px;">标签尺寸</div>
<div id="s1" class="t ts tl" style="left:859px;top:1261px;">慢</div>
<div class="t ts tl" style="left:859px;top:1371px;">强</div>
<div class="t ts tl" style="left:859px;top:1481px;">大</div>
<div id="s2" class="t ts tl" style="left:2116px;top:1261px;">快</div>
<div class="t ts tl" style="left:2116px;top:1371px;">弱</div>
<div class="t ts tl" style="left:2116px;top:1481px;">小</div>

<div class="t b" id="l4" style="left:396px;top:1643px;"><span class="lt">RFID</span>射频系统组成</div>
<div class="t b" id="l5" style="left:401px;top:1730px;letter-spacing:0.45px;">主要由标签/天线/读写器/信息管理系统(<span class="lt">MIS</span>)组成</div>
<div class="t ts" id="infotxt" style="left:1200px;top:2551px;font-size:72px;color:#000;-webkit-text-stroke:1px #000;">信息管理系统</div>

<div class="t b" id="r1" style="left:2906px;top:625px;letter-spacing:3.75px;">数据流程图</div>
<div class="t b" id="r2" style="left:2896px;top:886px;letter-spacing:2.15px;">系统构成：读写器（915<span class="lt">MH</span>z）、循环式射频标签、识别天线及<span class="lt">ERP</span>管理系统</div>

<div class="t g" id="g1" style="left:3112px;top:1258px;">RFID打印机</div>
<div class="t g" id="g2" style="left:3133px;top:1500px;">RFID写卡器</div>
<div class="t g" id="g3" style="left:3936px;top:1128px;">RFID天线</div>
<div class="t g" id="g4" style="left:3972px;top:1489px;">RFID手持机</div>
<div class="t" id="tagt" style="left:3475px;top:1264px;width:213px;text-align:center;color:#FF0000;font-size:35px;font-weight:bold;line-height:40px;">RFID标签<br>（卡片）</div>
<div class="t cl" id="cl1" style="left:2859px;top:1718px;width:200px;">发出任务<br>输出RFID<br>标签（卡）</div>
<div class="t cl" id="cl2" style="left:4291px;top:1591px;width:210px;">扫描数据<br>传输到服<br>务器</div>

<div class="t b" id="r3" style="left:2901px;top:2147px;">纳新电子的<span class="lt">FRID</span>产品</div>
<div class="t b" id="r4" style="left:3003px;top:2234px;letter-spacing:0.35px;">读写器系列产品(包括天线\标签)</div>
<div class="t b" id="r5" style="left:3064px;top:2322px;letter-spacing:0.5px;">甚高频识别系统</div>
<div class="t b" id="r6" style="left:3065px;top:2409px;letter-spacing:0.33px;">中高频识别系统</div>
<div class="t b" id="r7" style="left:3061px;top:2496px;letter-spacing:0.75px;">固定、移动、桌面识读设备</div>
<div class="t b" id="r8" style="left:3003px;top:2584px;">信息处理系统(<span class="lt">MIS</span>)</div>
<div class="t b" id="r9" style="left:3056px;top:2668px;letter-spacing:0.22px;">主要向客户提供生产/物流系统的<span class="lt">FRID</span>信息管理系统</div>
<div class="t b" id="r10" style="left:2951px;top:2755px;letter-spacing:0.75px;">射频识别系统解决方案和实施</div>

</body></html>
